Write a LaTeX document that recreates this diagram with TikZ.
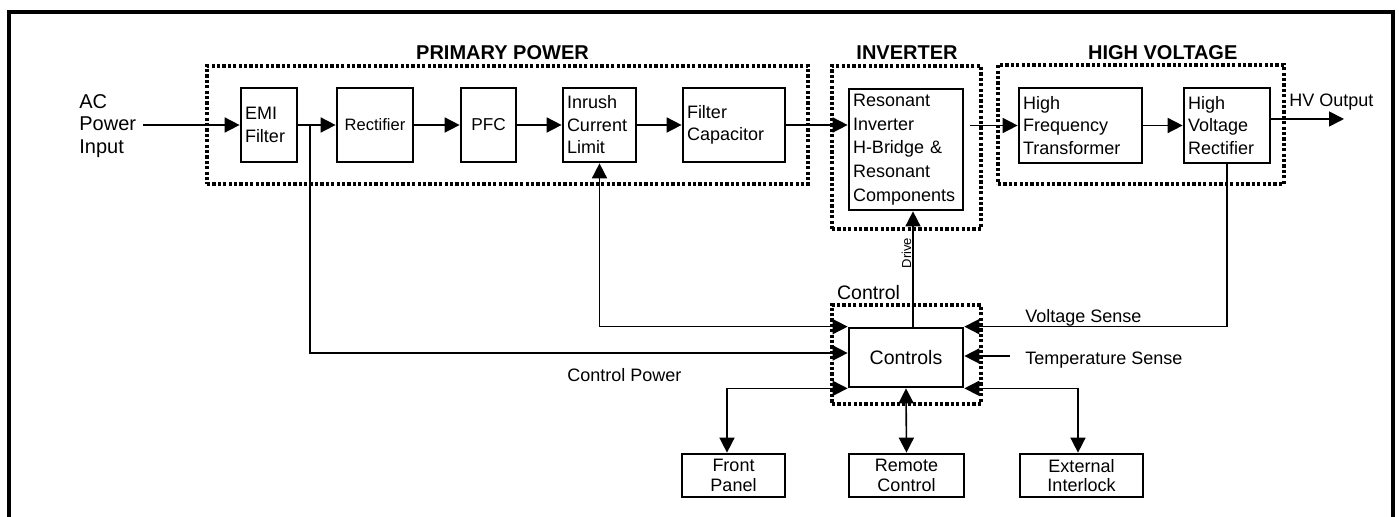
\documentclass[tikz,border=0pt]{standalone}
\usepackage{fontspec}
\setmainfont{Liberation Sans}
\usetikzlibrary{arrows.meta}
\begin{document}
\begin{tikzpicture}[x=0.5pt,y=-0.5pt]
\tikzset{
  blk/.style={draw, line width=1.35pt, inner xsep=2pt, inner ysep=0pt, font=\fontsize{9}{11.25}\selectfont},
  blkL/.style={blk, align=left},
  blkC/.style={blk, align=center},
  grp/.style={draw, line width=1.6pt, dash pattern=on 1.6pt off 1.1pt, inner sep=0pt},
  conn/.style={line width=0.8pt},
  arr/.style={conn, -{Triangle[length=7.5pt,width=7.5pt]}},
  barr/.style={conn, {Triangle[length=7.5pt,width=7.5pt]}-{Triangle[length=7.5pt,width=7.5pt]}},
  ttl/.style={font=\bfseries\fontsize{10}{12}\selectfont, anchor=base, inner sep=0pt},
  lbl/.style={font=\fontsize{9}{11}\selectfont, anchor=base west, inner sep=0pt},
}
\useasboundingbox (0,0) rectangle (1399,517);
% outer frame
\draw[line width=2.2pt] (9,517) -- (9,12) -- (1393,12) -- (1393,517);

% group boxes
\node[grp, minimum width=300.5pt, minimum height=59pt] (gpp) at (507.5,125) {};
\node[grp, minimum width=74.5pt, minimum height=81.5pt] (ginv) at (906.5,147.5) {};
\node[grp, minimum width=143pt, minimum height=59.5pt] (ghv) at (1141,124.5) {};
\node[grp, minimum width=74.5pt, minimum height=49.5pt] (gctl) at (906.5,354.5) {};

% titles
\node[ttl] (tpp) at (502.5,60) {PRIMARY POWER};
\node[ttl] (tinv) at (907,60) {INVERTER};
\node[ttl] (thv) at (1162.7,60) {HIGH VOLTAGE};
\node[lbl, font=\fontsize{9.75}{11}\selectfont] (tctl) at (836.7,299.3) {Control};

% blocks
\node[blkL, text width=24pt, minimum height=37pt] (emi) at (269,125) {EMI\\Filter};
\node[blkC, minimum width=38pt, minimum height=37pt, font=\fontsize{8.25}{10}\selectfont] (rect) at (375,125) {Rectifier};
\node[blkC, minimum width=27.5pt, minimum height=37pt, font=\fontsize{8.6}{10}\selectfont] (pfc) at (488.5,125) {PFC};
\node[blkL, text width=32.5pt, minimum height=37pt] (inrush) at (599.5,125) {Inrush\\Current\\Limit};
\node[blkL, text width=47pt, minimum height=37pt] (fcap) at (734,125) {Filter\\Capacitor};
\node[blkL, text width=53pt, minimum height=60.5pt, font=\fontsize{9}{11.9}\selectfont] (inv) at (906,149.5) {Resonant\\Inverter\\H-Bridge \&\\Resonant\\Components};
\node[blkL, text width=57.5pt, minimum height=37.5pt] (hft) at (1080.5,125.5) {High\\Frequency\\Transformer};
\node[blkL, text width=39pt, minimum height=37.5pt] (hvr) at (1227,125.5) {High\\Voltage\\Rectifier};
\node[blkC, minimum width=57pt, minimum height=29.5pt, font=\fontsize{9.75}{11}\selectfont] (controls) at (906,357.5) {Controls};
\node[blkC, minimum width=51.5pt, minimum height=21.5pt, font=\fontsize{9}{9.75}\selectfont] (front) at (733.5,475.5) {Front\\Panel};
\node[blkC, minimum width=57.5pt, minimum height=21.5pt, font=\fontsize{9}{9.75}\selectfont] (remote) at (906.5,475.5) {Remote\\Control};
\node[blkC, minimum width=61.5pt, minimum height=21.5pt, font=\fontsize{9}{9.75}\selectfont] (ext) at (1081.5,475.5) {External\\Interlock};

% input label
\node[align=left, anchor=west, inner sep=0pt, font=\fontsize{10}{11.25}\selectfont] (ac) at (79,126) {AC\\Power\\Input};

% main chain
\coordinate (acin) at (143,125);
\draw[arr] (acin) -- (emi.west);
\draw[arr] (emi.east) -- (rect.west);
\draw[arr] (rect.east) -- (pfc.west);
\draw[arr] (pfc.east) -- (inrush.west);
\draw[arr] (inrush.east) -- (fcap.west);
\draw[arr] (fcap.east) -- (inv.west |- fcap.east);
\draw[arr, shorten <=3pt] (inv.east |- hft.west) -- (hft.west);
\draw[arr] (hft.east) -- (hvr.west);
\coordinate (hvout) at (1344,119);
\draw[arr] (hvr.east |- hvout) -- (hvout);
\node[lbl] (hvl) at (1289,107) {HV Output};

% control connections
\coordinate (j1) at (310,125);
\draw[arr] (j1) |- (controls.west |- 0,353);
\node[lbl] (cp) at (567,381.7) {Control Power};
\draw[barr] (inrush.south) |- (controls.north west);
\draw[barr] (controls.south west) -| ([xshift=-3.25pt]front.north);
\draw[barr] (controls.south) -- (remote.north);
\draw[barr] (controls.south east) -| ([xshift=-1.75pt]ext.north);
\draw[arr] (hvr.south) |- (controls.north east);
\node[lbl] (vs) at (1025,323) {Voltage Sense};
\coordinate (temp) at (1010,356);
\draw[arr] (temp) -- (controls.east |- temp);
\node[lbl] (ts) at (1025,364.5) {Temperature Sense};
\draw[arr] ([xshift=3.5pt]controls.north) -- ([xshift=3.5pt]inv.south);
\node[rotate=90, anchor=base, inner sep=0pt, font=\fontsize{6.5}{8}\selectfont] (drv) at (911,253) {Drive};
\end{tikzpicture}
\end{document}
